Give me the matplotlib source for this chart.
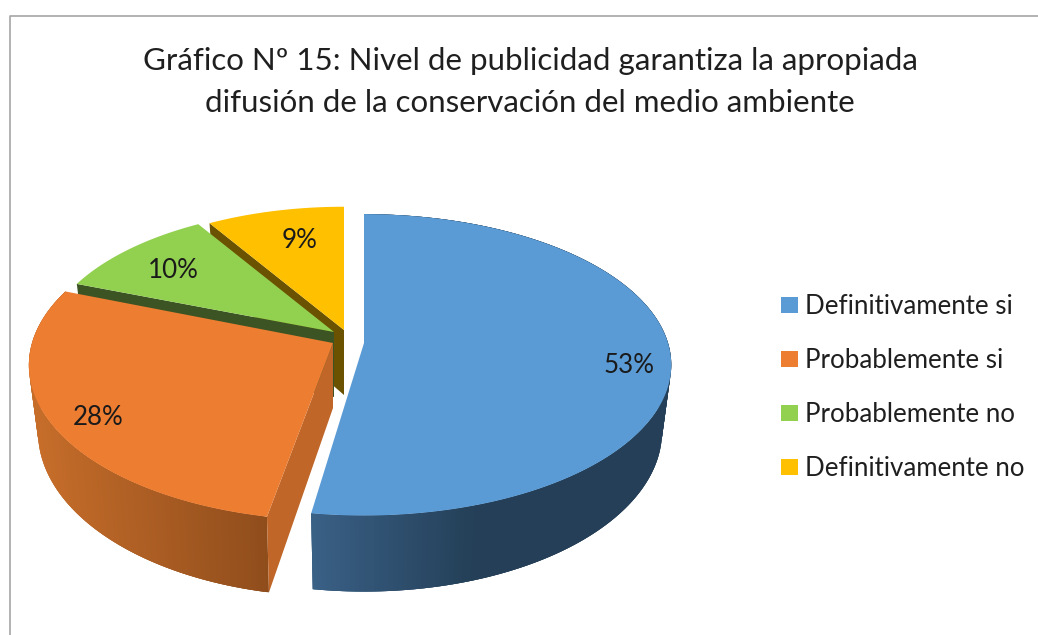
import numpy as np
import matplotlib
matplotlib.use('Agg')
import matplotlib.pyplot as plt
from matplotlib.colors import to_rgb

plt.rcParams['font.family'] = ['Lato', 'DejaVu Sans']

title = 'Gráfico Nº 15: Nivel de publicidad garantiza la apropiada\ndifusión de la conservación del medio ambiente'
categories = ['Definitivamente si', 'Probablemente si', 'Probablemente no', 'Definitivamente no']
values = [52.6, 28.2, 10.4, 8.8]
percent_labels = ['53%', '28%', '10%', '9%']

top_colors = ['#5b9bd5', '#ed7d31', '#92d050', '#ffc000']
legend_colors = ['#5b9bd5', '#ed7d31', '#92d050', '#ffc000']
cut_colors = ['#3a6187', '#bf6628', '#3c5423', '#6b5200']

# pie geometry in image pixels, every slice is pulled out on its own
apex_x = [364, 333, 334, 344]
apex_y = [343, 343, 332, 330]
slice_scale = [1.0, 0.99, 0.95, 0.94]
slice_scale_y = [0.99, 1.03, 1.0, 1.0]
RX, RY, K, DEPTH = 304, 149, 0.145, 65
BOTTOM_X = 0.97  # bottom of the pie looks a bit narrower
label_r = [0.86, 0.85, 0.70, 0.66]
label_dx = [2, 1, -14, 3]
label_dy = [12, 6, -2, -8]


def project(slice_i, t, r=1.0):
    # t is degrees clockwise from 12 o'clock, simple perspective squash
    s = slice_scale[slice_i] * r
    u = s * np.sin(np.radians(t))
    w = -s * np.cos(np.radians(t))
    f = 1 / (1 - K * w)
    return apex_x[slice_i] + RX * u * f, apex_y[slice_i] + RY * slice_scale_y[slice_i] * w * f, DEPTH * f


def gradient(x, x0, x1, c0, c1):
    a = np.clip((x - x0) / (x1 - x0), 0, 1)
    return tuple((1 - a) * np.array(to_rgb(c0)) + a * np.array(to_rgb(c1)))


fig = plt.figure(figsize=(10.38, 6.35), dpi=100)
ax = fig.add_axes([0, 0, 1, 1])
ax.set_xlim(0, 1038)
ax.set_ylim(635, 0)
ax.axis('off')

# chart frame
ax.plot([9.5, 9.5, 1038], [635, 15.5, 15.5], color='#a6a6a6', lw=1.2)

angles = np.concatenate([[0], np.cumsum(values) / np.sum(values) * 360])
# small corrections so the cut edges of blue and orange sit like the picture
start_angle = [angles[0], angles[1] + 1.5, angles[2], angles[3]]
end_angle = [angles[1] - 0.8, angles[2], angles[3], angles[4]]


def bottom_x(i, x):
    return apex_x[i] + (x - apex_x[i]) * BOTTOM_X


def draw_top(i):
    ts = np.linspace(start_angle[i], end_angle[i], 150)
    xs, ys, _ = project(i, ts)
    ax.fill(np.r_[apex_x[i], xs], np.r_[apex_y[i], ys], color=top_colors[i], lw=0)


def draw_rim(i, x0, x1, c0, c1):
    ts = np.linspace(start_angle[i], end_angle[i], 240)
    xs, ys, ds = project(i, ts)
    bx = bottom_x(i, xs)
    by = ys + ds
    # quads overlap the next ones so no seams show up in the gradient
    for j in range(len(ts) - 1):
        k = min(j + 3, len(ts) - 1)
        c = gradient(xs[j], x0, x1, c0, c1)
        ax.fill(np.r_[xs[j:k + 1], bx[j:k + 1][::-1]],
                np.r_[ys[j:k + 1], by[j:k + 1][::-1]], color=c, lw=0)


def draw_cut(i, t):
    x, y, d = project(i, t)
    ax.fill([apex_x[i], x, bottom_x(i, x), apex_x[i]],
            [apex_y[i], y, y + d, apex_y[i] + DEPTH], color=cut_colors[i], lw=0)


# back to front
draw_cut(3, start_angle[3])
draw_cut(2, start_angle[2])
draw_top(2)
draw_top(3)
draw_rim(1, 35, 270, '#c66d2a', '#8f4d1c')
draw_cut(1, start_angle[1])
draw_top(1)
draw_rim(0, 310, 480, '#3a6187', '#243f57')
draw_top(0)

for i in range(4):
    mid = (angles[i] + angles[i + 1]) / 2
    x, y, _ = project(i, mid, label_r[i])
    ax.text(x + label_dx[i], y + label_dy[i], percent_labels[i], fontsize=18.7,
            color='#1a1a1a', ha='center', va='center')

ax.text(530, 82, title, fontsize=22.5, color='#1f1f1f', ha='center', va='center', linespacing=1.57)

# legend
for i, name in enumerate(categories):
    y = 305 + 54 * i
    ax.fill([781, 798, 798, 781], [y - 8, y - 8, y + 8, y + 8], color=legend_colors[i], lw=0)
    ax.text(805, y + 1.5, name, fontsize=18.6, color='#1f1f1f', ha='left', va='center')

fig.savefig('out.png', dpi=100)
